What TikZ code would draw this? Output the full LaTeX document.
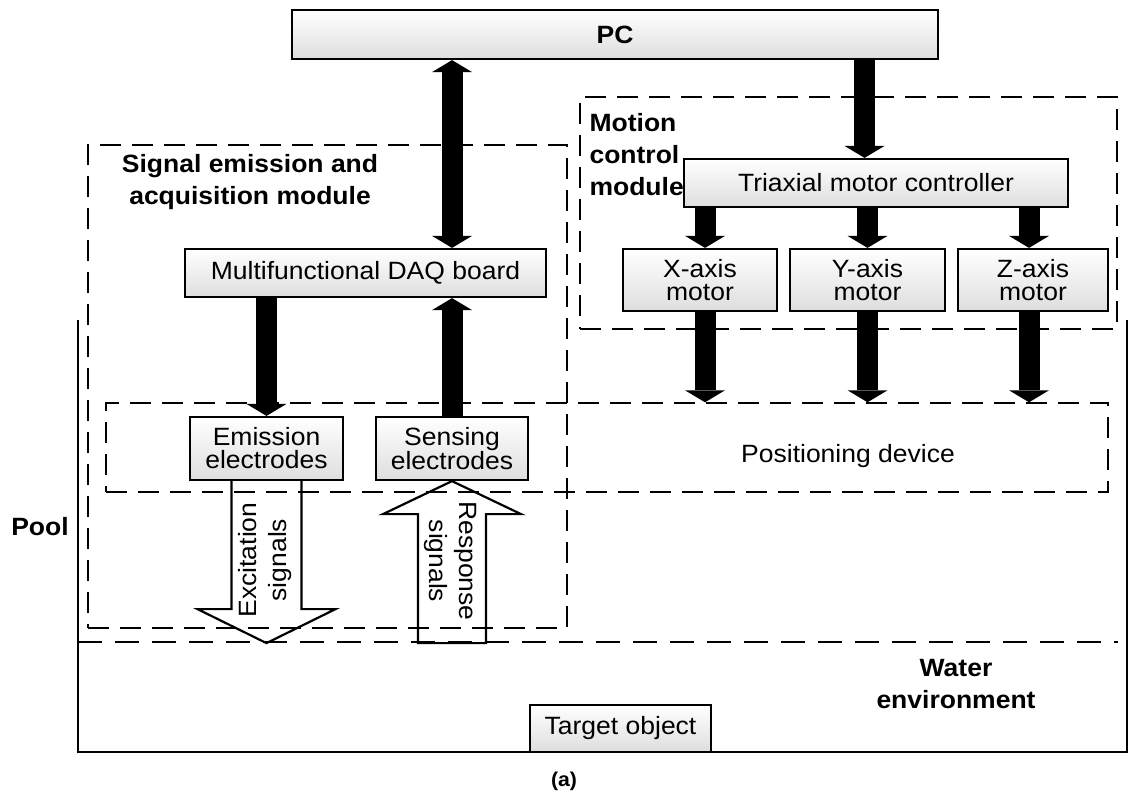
\documentclass[tikz,border=0pt]{standalone}
\usepackage{fontspec}
\setmainfont{Liberation Sans}[FakeStretch=1.06]
\usetikzlibrary{arrows.meta,calc}
\begin{document}
\begin{tikzpicture}[x=1pt,y=-1pt,
  box/.style={draw,line width=2.2pt,top color=white,bottom color=black!13,inner sep=0pt,align=center,font=\fontsize{25}{23}\selectfont},
  dbox/.style={draw,dash pattern=on 21pt off 11pt,line width=1.4pt,inner sep=0pt},
  bar/.style={line width=21pt,-{Triangle[width=40pt,length=12pt,line width=0pt]}},
  dbar/.style={line width=21pt,{Triangle[width=40pt,length=12pt,line width=0pt]}-{Triangle[width=40pt,length=12pt,line width=0pt]}},
  hollow/.style={draw,line width=2.2pt,line join=miter},
  wall/.style={draw,line width=2.2pt},
  lbl/.style={font=\fontsize{25}{32}\selectfont\bfseries,align=center},
  txt/.style={font=\fontsize{25}{30}\selectfont,align=center}
]
\useasboundingbox (0,0) rectangle (1131,794);

% dashed module frames
\node[dbox,minimum width=479pt,minimum height=483pt] (sigbox) at (327.5,386.5) {};
\node[dbox,minimum width=537pt,minimum height=232pt] (motbox) at (848.5,213) {};
\node[dbox,minimum width=1002pt,minimum height=89pt] (posbox) at (607,447.5) {};

% pool
\coordinate (wl) at (78,320);
\coordinate (wr) at (1127,320);
\draw[wall] (wl) -- (78,752) -- (1127,752) -- (wr);
\coordinate (waterL) at (78,642);
\coordinate (waterR) at (1118,642);
\draw[line width=1.8pt,dash pattern=on 24pt off 13pt] (waterL) -- (waterR);

% boxes
\node[box,minimum width=646pt,minimum height=49pt,font=\fontsize{25}{21}\selectfont\bfseries] (pc) at (615,34.5) {PC};
\node[box,minimum width=361pt,minimum height=48pt] (daq) at (365.5,273) {Multifunctional DAQ board};
\node[box,minimum width=384pt,minimum height=48pt] (ctrl) at (876,183) {Triaxial motor controller};
\node[box,minimum width=154pt,minimum height=62pt] (xm) at (700,280) {X-axis\\motor};
\node[box,minimum width=155pt,minimum height=62pt] (ym) at (867.5,280) {Y-axis\\motor};
\node[box,minimum width=150pt,minimum height=62pt] (zm) at (1033,280) {Z-axis\\motor};
\node[box,minimum width=153pt,minimum height=63pt] (emis) at (266.5,448.5) {Emission\\electrodes};
\node[box,minimum width=152pt,minimum height=63pt] (sens) at (452,448.5) {Sensing\\electrodes};
\node[box,minimum width=181pt,minimum height=47pt] (target) at (620.5,728.5) {Target object};

% black arrows
\draw[dbar] (sens.north |- pc.south) -- (sens.north |- daq.north);
\draw[bar] ($(ym.north |- pc.south)+(-3,0)$) -- ($(ym.north |- ctrl.north)+(-3,0)$);
\draw[bar] ($(xm.north |- ctrl.south)+(5,0)$) -- ($(xm.north)+(5,0)$);
\draw[bar] (ym.north |- ctrl.south) -- (ym.north);
\draw[bar] ($(zm.north |- ctrl.south)+(-4,0)$) -- ($(zm.north)+(-4,0)$);
\draw[bar] ($(xm.south)+(5,0)$) -- ($(xm.south |- posbox.north)+(5,0)$);
\draw[bar] (ym.south) -- (ym.south |- posbox.north);
\draw[bar] ($(zm.south)+(-4,0)$) -- ($(zm.south |- posbox.north)+(-4,0)$);
\draw[bar] (emis.north |- daq.south) -- (emis.north);
\draw[bar] (sens.north) -- (sens.north |- daq.south);

% hollow signal arrows
\draw[hollow] ($(emis.south)+(-35,0)$) -- ++(0,128) -- ++(-34,0) -- ($(emis.south)+(0,162)$)
  -- ($(emis.south)+(69,128)$) -- ++(-34,0) -- ($(emis.south)+(35,0)$);
\draw[hollow] ($(sens.south)+(-34,162)$) -- ++(0,-129) -- ++(-35,0) -- (sens.south)
  -- ($(sens.south)+(69,33)$) -- ++(-35,0) -- ++(0,129) -- cycle;

% texts
\node[txt,rotate=90] (exc) at (265,560) {Excitation\\signals};
\node[txt,rotate=-90] (resp) at (450,561) {Response\\signals};
\node[txt] (postxt) at (848,456) {Positioning device};
\node[lbl] (sig) at (250,182.5) {Signal emission and\\acquisition module};
\node[lbl,align=left,anchor=west] (mot) at (586,155) {Motion\\control\\module};
\node[lbl] (pool) at (40,527) {Pool};
\node[lbl] (water) at (956,684) {Water\\environment};
\node[font=\fontsize{20}{22}\selectfont\bfseries] (cap) at (564,781) {(a)};
\end{tikzpicture}
\end{document}
